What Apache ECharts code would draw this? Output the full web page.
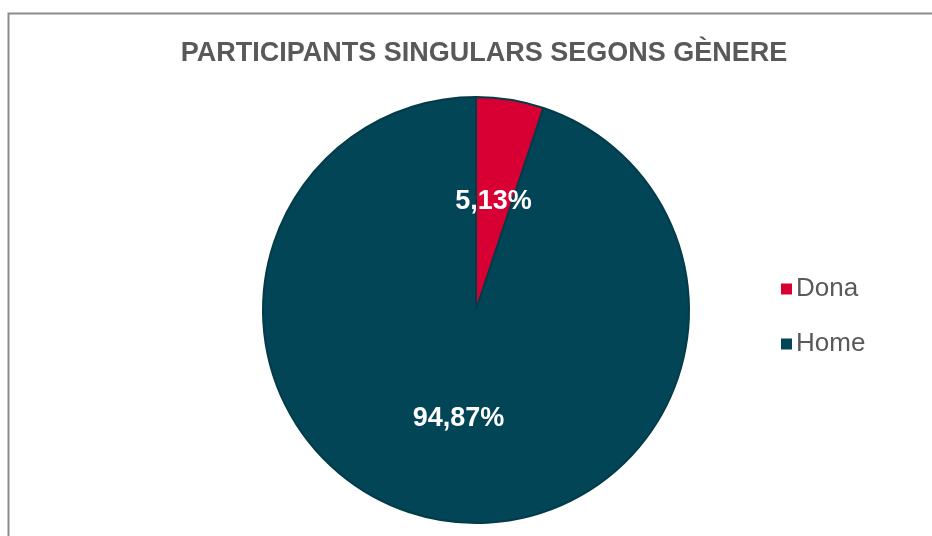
<!DOCTYPE html>
<html>
<head>
<meta charset="utf-8">
<script src="https://cdn.jsdelivr.net/npm/echarts@6/dist/echarts.min.js"></script>
<style>
  html, body { margin: 0; padding: 0; background: #fff; }
  #main { width: 932px; height: 536px; }
</style>
</head>
<body>
<div id="main"></div>
<script>
// dades
const categories = ['Dona', 'Home'];
const percents = [5.13, 94.87];
const colors = ['#D80032', '#024556'];

const chart = echarts.init(document.getElementById('main'));

const option = {
  animation: false,
  title: {
    text: 'PARTICIPANTS SINGULARS SEGONS GÈNERE',
    left: 479,
    textAlign: 'center',
    top: 35,
    textStyle: {
      fontFamily: 'Liberation Sans',
      fontWeight: 'bold',
      fontSize: 27,
      color: '#595959'
    }
  },
  graphic: [{
    type: 'rect',
    shape: { x: 8.5, y: 13.5, width: 940, height: 540 },
    style: { fill: 'none', stroke: '#8c8c8c', lineWidth: 2 },
    silent: true,
    z: -1
  }],
  legend: {
    orient: 'vertical',
    left: 776,
    top: 271,
    itemGap: 29,
    itemWidth: 11,
    itemHeight: 11,
    icon: 'rect',
    itemStyle: { borderWidth: 0 },
    textStyle: {
      fontFamily: 'Liberation Sans',
      fontSize: 26,
      color: '#595959',
      padding: [0, 0, 0, -1]
    },
    data: categories
  },
  series: [{
    type: 'pie',
    center: [476, 310],
    radius: [0, 213],
    startAngle: 90,
    clockwise: true,
    label: {
      show: true,
      position: 'inside',
      formatter: p => p.value.toFixed(2).replace('.', ',') + '%',
      fontFamily: 'Liberation Sans',
      fontWeight: 'bold',
      fontSize: 27,
      color: '#ffffff'
    },
    labelLine: { show: false },
    emphasis: { disabled: true },
    itemStyle: {
      borderColor: '#033b49',
      borderWidth: 2
    },
    data: categories.map((c, i) => ({
      name: c,
      value: percents[i],
      itemStyle: { color: colors[i] }
    }))
  }]
};

chart.setOption(option);
</script>
</body>
</html>
